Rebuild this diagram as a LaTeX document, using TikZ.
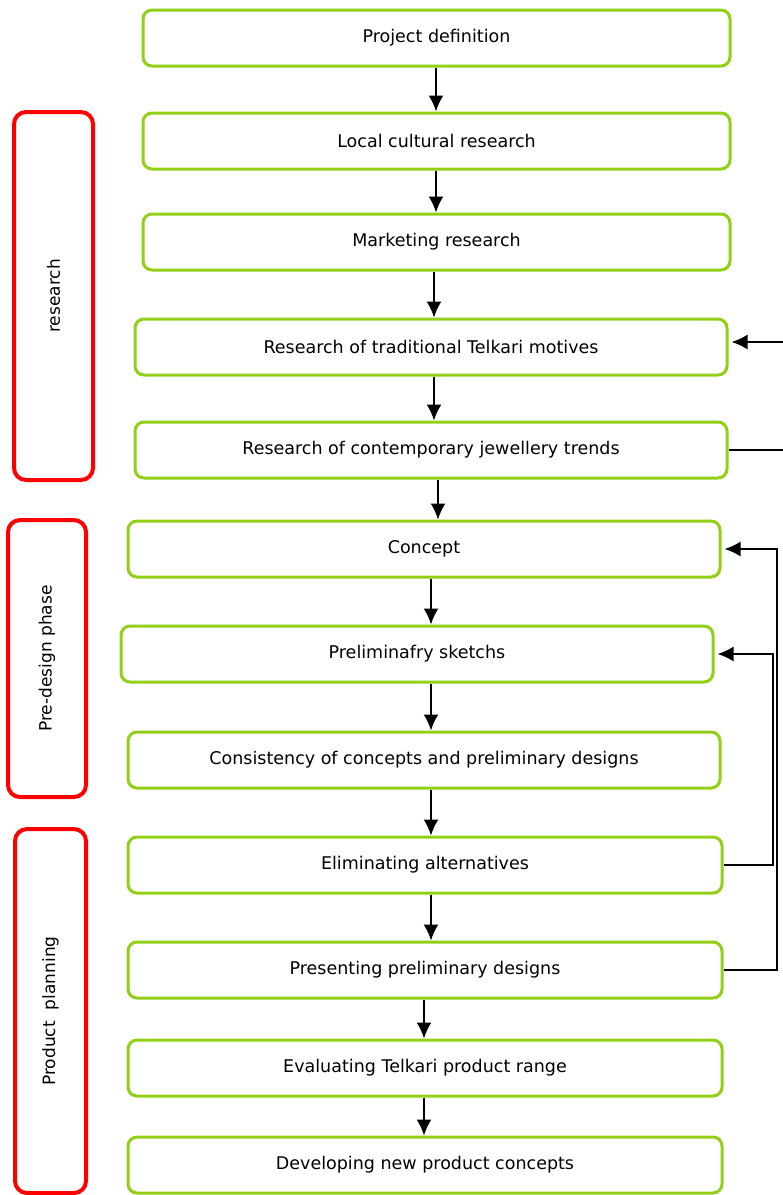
\documentclass[tikz,border=0pt]{standalone}
\usepackage{fontspec}
\setmainfont{DejaVu Sans}
\usetikzlibrary{arrows.meta}
\definecolor{stagegreen}{RGB}{146,208,24}
\tikzset{
  stage/.style={draw=stagegreen, line width=3pt, rounded corners=9pt,
    minimum height=56pt, inner sep=0pt, font=\fontsize{17.5}{20}\selectfont},
  phase/.style={draw=red, line width=4pt, rounded corners=12pt,
    inner sep=0pt},
  flow/.style={-{Latex[length=16pt,width=15pt]}, line width=1.8pt}
}
\begin{document}
\begin{tikzpicture}[x=1pt, y=-1pt]
      \useasboundingbox (0,0) rectangle (783,1195);
      \clip (0,0) rectangle (783,1195);
      \path
        (436.5,38) node[stage, minimum width=587pt] (1){Project definition}
        (436.5,141) node[stage, minimum width=587pt] (2){Local cultural research}
        (436.5,242) node[stage, minimum width=587pt] (3){Marketing research}
        (431,347) node[stage, minimum width=592pt] (4){Research of traditional Telkari motives}
        (431,450) node[stage, minimum width=592pt] (5){Research of contemporary jewellery trends}
        (424,549) node[stage, minimum width=592pt] (6){Concept}
        (417,654) node[stage, minimum width=592pt] (7){Preliminafry sketchs}
        (424,760) node[stage, minimum width=592pt] (8){Consistency of concepts and preliminary designs}
        (425,865) node[stage, minimum width=594pt] (9){Eliminating alternatives}
        (425,970) node[stage, minimum width=594pt] (10){Presenting preliminary designs}
        (425,1068) node[stage, minimum width=594pt] (11){Evaluating Telkari product range}
        (425,1165) node[stage, minimum width=594pt] (12){Developing new product concepts};
      \path
        (53.5,296) node[phase, minimum width=79pt, minimum height=368pt] (r){}
        (47,658.5) node[phase, minimum width=78pt, minimum height=277pt] (p){}
        (50.5,1011) node[phase, minimum width=71pt, minimum height=364pt] (q){};
      \node[rotate=90, font=\fontsize{17}{20}\selectfont] at (r) {research};
      \node[rotate=90, font=\fontsize{17}{20}\selectfont] at (p) {Pre-design phase};
      \node[rotate=90, font=\fontsize{17}{20}\selectfont] at (q) {Product\ \ planning};
      \begin{scope}[flow]
        \draw (1.south -| 436,0) to (2.north -| 436,0);
        \draw (2.south -| 436,0) to (3.north -| 436,0);
        \draw (3.south -| 434,0) to (4.north -| 434,0);
        \draw (4.south -| 434,0) to (5.north -| 434,0);
        \draw (5.south -| 438,0) to (6.north -| 438,0);
        \draw (6.south -| 431,0) to (7.north -| 431,0);
        \draw (7.south -| 431,0) to (8.north -| 431,0);
        \draw (8.south -| 431,0) to (9.north -| 431,0);
        \draw (9.south -| 431,0) to (10.north -| 431,0);
        \draw (10.south -| 424,0) to (11.north -| 424,0);
        \draw (11.south -| 424,0) to (12.north -| 424,0);
        \draw (5.east) -- (790,450) -- (790,342) -- ([xshift=3pt]4.east |- 0,342);
        \draw (10.east) -- (777,970) |- ([xshift=3pt]6.east);
        \draw (9.east) -- (773,865) |- ([xshift=3pt]7.east);
      \end{scope}
\end{tikzpicture}
\end{document}
